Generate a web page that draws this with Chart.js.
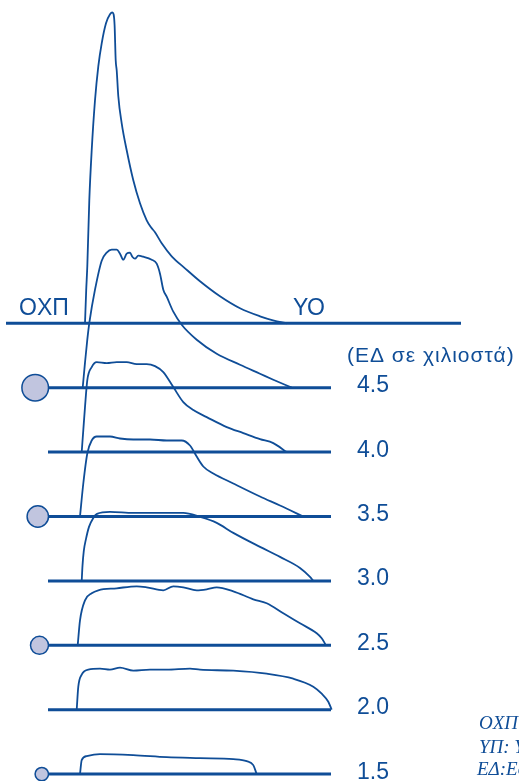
<!DOCTYPE html>
<html>
<head>
<meta charset="utf-8">
<script src="https://cdn.jsdelivr.net/npm/chart.js@4"></script>
<style>
  html, body { margin: 0; padding: 0; background: #fff; }
  #wrap { width: 519px; height: 781px; }
</style>
</head>
<body>
<div id="wrap"><canvas id="chartArea" width="519" height="781"></canvas></div>
<script>
// diameters (mm) for each stacked trace, top reference trace has none
var diameters = ['4.5', '4.0', '3.5', '3.0', '2.5', '2.0', '1.5']

// traces: [time, amplitude above own baseline]
var traceRef = [[85,0],[86.2,33],[87.3,57],[89.3,123],[91.7,173],[95,223],[98.3,257],[101.7,280],[106,300],[110,309],[112.3,311],[113.6,309],[114.6,298],[115.7,263],[116.7,253],[118.3,227],[121.7,200],[126.7,173],[133.3,143],[140,120],[146.7,103],[151,96],[155,91],[161.7,80],[171.7,67],[185,55],[200,42],[220,27],[240,15],[260,7],[273,3],[287,0]]
var trace45 = [[82.7,0],[85,25],[87.3,48],[89.5,66],[95,98],[101.7,127],[106.7,135],[111.7,138],[116.7,138],[120,134],[123.3,128],[126.7,134],[130,135],[132.3,131],[135,129],[138.3,132],[143.3,131],[151.7,128],[156.7,124],[160,114],[163.3,98],[166.7,91],[173.3,76],[181.7,63],[196.7,48],[216.7,34],[240,23],[260,14],[273.3,8],[291.7,0]]
var trace40 = [[81.7,0],[83.3,22],[85,45],[87.3,72],[91.7,85],[96.7,90],[106.7,89],[116.7,90],[126.7,90],[136.7,88],[146.7,88],[155,86],[163.3,80],[173.3,65],[183.3,50],[193.3,42],[206.7,35],[226.7,25],[243.3,19],[260,13],[273.3,9],[286.7,0]]
var trace35 = [[80,0],[83.3,33],[87.3,63],[91.7,76],[96.7,80],[110,80],[120,78],[133.3,77],[150,77],[166.7,76],[181.7,76],[190,71],[196.7,60],[203.3,50],[213.3,43],[233.3,33],[260,20],[280,11],[303.3,0]]
var trace30 = [[81.7,0],[82.5,15],[83.8,30],[86,42],[89,54],[93.3,63],[97,67],[110,69],[133.3,68],[166.7,68],[183.3,68],[200,64],[216.7,58],[233.3,48],[260,34],[280,24],[300,13],[310,4],[313.3,0]]
var trace25 = [[77.7,0],[80,25],[85,45],[91.7,52],[98.3,55],[116.7,57],[136.7,59],[146.7,58],[163.3,55],[173.3,59],[183.3,58],[196.7,55],[206.7,56],[216.7,58],[233.3,54],[253.3,46],[266.7,42],[283.3,32],[300,22],[316.7,12],[321.7,7],[326,0]]
var trace20 = [[76.7,0],[78.3,23],[81.7,35],[88.3,40],[100,41],[110,40],[120,42],[133.3,39],[150,40],[166.7,40],[190,41],[200,40],[233.3,39],[266.7,36],[293.3,31],[313.3,23],[321.7,16],[328.3,8],[331.7,0]]
var trace15 = [[80,0],[81.7,14],[86.7,18],[100,20],[133.3,19],[166.7,17],[200,16],[233.3,15],[246.7,13],[253.3,9],[256.7,0]]

var traces = [traceRef, trace45, trace40, trace35, trace30, trace25, trace20, trace15]

var blue = '#0f4d97'
var step = 64.4

var datasets = []

// baselines
for (var i = 0; i < traces.length; i++) {
  var b = -i * step
  var x0 = i == 0 ? 6 : 48
  var x1 = i == 0 ? 461 : 331
  datasets.push({
    data: [{x: x0, y: b}, {x: x1, y: b}],
    showLine: true, borderColor: blue, borderWidth: 3, pointRadius: 0
  })
}

// traces
traces.forEach(function(t, i){
  datasets.push({
    data: t.map(function(p){ return {x: p[0], y: p[1] - i * step} }),
    showLine: true, borderColor: blue, borderWidth: 1.8, pointRadius: 0,
    cubicInterpolationMode: 'monotone'
  })
})

// vessel circles on every other baseline
var circR = [13.3, 10.7, 9, 6.7]
datasets.push({
  data: circR.map(function(r, j){ return {x: 48.5 - r, y: -(1 + 2 * j) * step} }),
  showLine: false,
  pointRadius: circR,
  pointBackgroundColor: '#c1c5df',
  pointBorderColor: blue,
  pointBorderWidth: 1.5
})

var labelsPlugin = {
  id: 'labels',
  afterDatasetsDraw: function(chart){
    var c = chart.ctx
    var xs = chart.scales.x, ys = chart.scales.y
    c.save()
    c.fillStyle = blue
    c.textBaseline = 'alphabetic'
    c.textAlign = 'left'
    c.font = '23px "Liberation Sans", Arial, sans-serif'
    c.fillText('ΟΧΠ', xs.getPixelForValue(19), ys.getPixelForValue(0) - 8)
    c.fillText('ΥΟ', xs.getPixelForValue(293), ys.getPixelForValue(0) - 8)
    diameters.forEach(function(d, i){
      c.fillText(d, xs.getPixelForValue(357), ys.getPixelForValue(-(i + 1) * step) + 4.5)
    })
    c.font = '21px "Liberation Sans", Arial, sans-serif'
    c.letterSpacing = '1px'
    c.fillText('(ΕΔ σε χιλιοστά)', xs.getPixelForValue(347), ys.getPixelForValue(0) + 38.5)
    c.letterSpacing = '0px'
    c.font = 'italic 19px "Liberation Serif", "Times New Roman", serif'
    c.fillText('ΟΧΠ: Οπίσθιο χείλος', 479, 729)
    c.fillText('ΥΠ: Υπερηχογράφημα', 479, 752.5)
    c.fillText('ΕΔ:Εσωτερική διάμετρος', 477, 775)
    c.restore()
  }
}

var ctx = document.getElementById('chartArea').getContext('2d')
var chart = new Chart(ctx, {
  type: 'scatter',
  data: { datasets: datasets },
  options: {
    responsive: false,
    animation: false,
    layout: { padding: 0, autoPadding: false },
    clip: false,
    plugins: { legend: { display: false }, tooltip: { enabled: false } },
    scales: {
      x: { type: 'linear', min: 0, max: 519, display: false },
      y: { type: 'linear', min: 323.3 - 781, max: 323.3, display: false }
    }
  },
  plugins: [labelsPlugin]
})
</script>
</body>
</html>
